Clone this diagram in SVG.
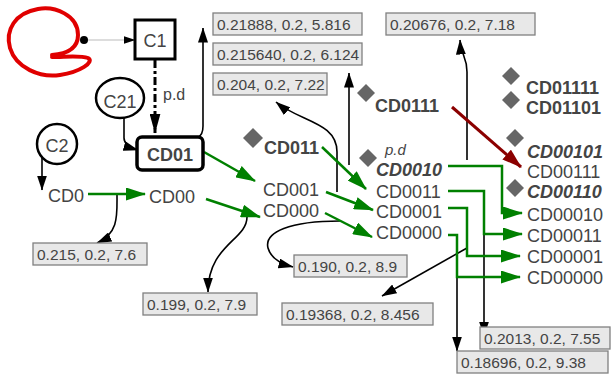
<svg xmlns="http://www.w3.org/2000/svg" width="611" height="375" viewBox="0 0 611 375">
<style>
text{font-family:"Liberation Sans",Arial,sans-serif;fill:#444}
.lbl{font-size:18px}
.b{font-weight:bold}
.i{font-style:italic}
.box rect{fill:#e8e8e8;stroke:#808080;stroke-width:1.3}
.box text{font-size:15.5px;fill:#444}
.g{fill:none;stroke:#008000;stroke-width:2.5}
.k{fill:none;stroke:#000;stroke-width:1.6}
.dia{fill:#666}
</style>
<defs>
<marker id="ag" markerUnits="userSpaceOnUse" markerWidth="20" markerHeight="13" refX="19" refY="6.5" orient="auto"><path d="M0,0 L20,6.5 L0,13 z" fill="#008000"/></marker>
<marker id="ar" markerUnits="userSpaceOnUse" markerWidth="20" markerHeight="13" refX="19" refY="6.5" orient="auto"><path d="M0,0 L20,6.5 L0,13 z" fill="#8b0000"/></marker>
<marker id="ak" markerUnits="userSpaceOnUse" markerWidth="15" markerHeight="10" refX="14.5" refY="5" orient="auto"><path d="M0,0 L15,5 L0,10 z" fill="#000"/></marker>
<marker id="ad" markerUnits="userSpaceOnUse" markerWidth="20" markerHeight="11" refX="19.5" refY="5.5" orient="auto"><path d="M0,0 L20,5.5 L0,11 z" fill="#000"/></marker>
<marker id="as" markerUnits="userSpaceOnUse" markerWidth="12" markerHeight="8" refX="11.5" refY="4" orient="auto"><path d="M0,0 L12,4 L0,8 z" fill="#000"/></marker>
</defs>

<!-- red scribble -->
<path d="M52,55 C65,54 78,50 78,35 C78,15 55,6 38,9 C15,13 5,30 10,48 C16,68 40,78 60,75 C80,72 95,62 88,58 C80,55 65,57 52,57" fill="none" stroke="#e00000" stroke-width="4" stroke-linecap="round"/>

<g id="connectors">
<line x1="84" y1="40" x2="135" y2="40" stroke="#bbb" stroke-width="1.2" marker-end="url(#as)"/>
<line x1="155" y1="60" x2="155" y2="133" stroke="#000" stroke-width="3" stroke-dasharray="8 3 3 3" marker-end="url(#ad)"/>
<path class="k" d="M124,118 V138 Q124,146 138,150" stroke-width="2.5" marker-end="url(#ak)"/>
<path class="k" d="M42,158 V190" marker-end="url(#ak)"/>
<path class="k" d="M198,137 Q203,135 203,126 V28" marker-end="url(#ak)"/>
<path class="k" d="M117,195 C117,215 119,233 97,243" marker-end="url(#ak)"/>
<path class="k" d="M247,217 C247,240 208,245 208,292" marker-end="url(#ak)"/>
<path class="k" d="M340,221 C290,221 264,232 268,248 C271,259 281,264 293,267" marker-end="url(#ak)"/>
<path class="k" d="M337,192 V152 C337,122 300,122 276,102" marker-end="url(#ak)"/>
<path class="k" d="M349,165 V73" marker-end="url(#ak)"/>
<path class="k" d="M467,160 V72 C467,56 461,56 460,40" marker-end="url(#ak)"/>
<path class="k" d="M467,248 L382,296" marker-end="url(#ak)"/>
<path class="k" d="M457,240 V351" marker-end="url(#ak)"/>
<path class="k" d="M484,232 V336" marker-end="url(#ak)"/>

<line class="g" x1="88" y1="194" x2="145" y2="194" marker-end="url(#ag)"/>
<line class="g" x1="206" y1="199" x2="260" y2="217" marker-end="url(#ag)"/>
<line class="g" x1="204" y1="152" x2="255" y2="181" marker-end="url(#ag)"/>
<line class="g" x1="322" y1="147" x2="366" y2="189" marker-end="url(#ag)"/>
<line class="g" x1="326" y1="192" x2="373" y2="210" marker-end="url(#ag)"/>
<line class="g" x1="325" y1="213" x2="372" y2="237" marker-end="url(#ag)"/>
<path class="g" d="M448,166 H502 V213 H522" marker-end="url(#ag)"/>
<path class="g" d="M448,191 H484 V234 H522" marker-end="url(#ag)"/>
<path class="g" d="M448,208 H467 V256 H520" marker-end="url(#ag)"/>
<path class="g" d="M448,235 H457 V277 H520" marker-end="url(#ag)"/>
<line x1="452" y1="107" x2="521" y2="167" stroke="#8b0000" stroke-width="3" marker-end="url(#ar)"/>
</g>

<circle cx="84" cy="40" r="4" fill="#000"/>

<g id="C1"><rect x="135" y="20" width="40" height="39" fill="#fff" stroke="#000" stroke-width="3"/><text class="lbl" x="155" y="47" text-anchor="middle">C1</text></g>
<text x="163" y="100" style="font-size:16px">p.d</text>
<g id="C21"><ellipse cx="120" cy="98" rx="24" ry="20" fill="#fff" stroke="#000" stroke-width="2.5"/><text class="lbl" x="120" y="108" text-anchor="middle">C21</text></g>
<g id="C2"><circle cx="57" cy="144" r="20" fill="#fff" stroke="#000" stroke-width="2.5"/><text class="lbl" x="57" y="152" text-anchor="middle">C2</text></g>
<g id="CD01"><rect x="137" y="137" width="66" height="33" rx="5" fill="#fff" stroke="#000" stroke-width="3.5"/><text class="lbl b" x="170" y="161" text-anchor="middle">CD01</text></g>
<g id="CD0"><text class="lbl" x="48" y="202">CD0</text></g>
<g id="CD00"><text class="lbl" x="149" y="203">CD00</text></g>
<g id="CD011"><path class="dia" d="M253,128 L263,138 L253,148 L243,138 z"/><text class="lbl b" x="264" y="154">CD011</text></g>
<g id="CD001"><text class="lbl" x="263" y="196">CD001</text></g>
<g id="CD000"><text class="lbl" x="263" y="217">CD000</text></g>
<g id="CD0111"><path class="dia" d="M366,84 L375,93 L366,102 L357,93 z"/><text class="lbl b" x="375" y="112">CD0111</text></g>
<g id="CD0010"><path class="dia" d="M368,149 L377,158 L368,167 L359,158 z"/><text x="385" y="155" class="i" style="font-size:15px">p.d</text><text class="lbl b i" x="376" y="176">CD0010</text></g>
<g id="CD0011"><text class="lbl" x="376" y="198">CD0011</text></g>
<g id="CD0001"><text class="lbl" x="376" y="218">CD0001</text></g>
<g id="CD0000"><text class="lbl" x="376" y="239">CD0000</text></g>
<g id="CD01111"><path class="dia" d="M511,67 L520,76 L511,85 L502,76 z"/><text class="lbl b" x="526" y="94">CD01111</text></g>
<g id="CD01101"><path class="dia" d="M511,91 L520,100 L511,109 L502,100 z"/><text class="lbl b" x="526" y="114">CD01101</text></g>
<g id="CD00101"><path class="dia" d="M515,129 L524,138 L515,147 L506,138 z"/><text class="lbl b i" x="527" y="158">CD00101</text></g>
<g id="CD00111"><text class="lbl" x="527" y="178">CD00111</text></g>
<g id="CD00110"><path class="dia" d="M515,179 L524,188 L515,197 L506,188 z"/><text class="lbl b i" x="527" y="198">CD00110</text></g>
<g id="CD00010"><text class="lbl" x="527" y="221">CD00010</text></g>
<g id="CD00011"><text class="lbl" x="527" y="242">CD00011</text></g>
<g id="CD00001"><text class="lbl" x="527" y="263">CD00001</text></g>
<g id="CD00000"><text class="lbl" x="527" y="284">CD00000</text></g>

<g id="b1" class="box"><rect x="213" y="13" width="149" height="22"/><text x="217" y="30">0.21888, 0.2, 5.816</text></g>
<g id="b2" class="box"><rect x="213" y="43" width="149" height="22"/><text x="217" y="60">0.215640, 0.2, 6.124</text></g>
<g id="b3" class="box"><rect x="213" y="73" width="114" height="22"/><text x="217" y="90">0.204, 0.2, 7.22</text></g>
<g id="b4" class="box"><rect x="386" y="13" width="149" height="22"/><text x="390" y="30">0.20676, 0.2, 7.18</text></g>
<g id="b5" class="box"><rect x="33" y="243" width="114" height="22"/><text x="37" y="260">0.215, 0.2, 7.6</text></g>
<g id="b6" class="box"><rect x="143" y="293" width="114" height="22"/><text x="147" y="310">0.199, 0.2, 7.9</text></g>
<g id="b7" class="box"><rect x="294" y="255" width="113" height="22"/><text x="298" y="272">0.190, 0.2, 8.9</text></g>
<g id="b8" class="box"><rect x="282" y="303" width="151" height="22"/><text x="286" y="320">0.19368, 0.2, 8.456</text></g>
<g id="b9" class="box"><rect x="480" y="327" width="130" height="22"/><text x="484" y="344">0.2013, 0.2, 7.55</text></g>
<g id="b10" class="box"><rect x="457" y="351" width="151" height="22"/><text x="461" y="368">0.18696, 0.2, 9.38</text></g>
</svg>
